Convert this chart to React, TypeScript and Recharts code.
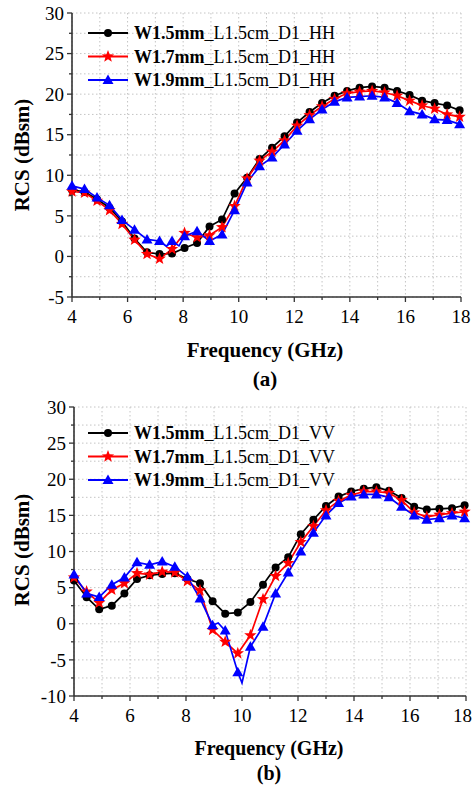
import React from 'react';
import { LineChart, Line, XAxis, YAxis, CartesianGrid } from 'recharts';

// frequencies (GHz) where the symbols sit
const FREQ = [4.0, 4.45, 4.9, 5.35, 5.8, 6.25, 6.7, 7.15, 7.6, 8.05, 8.5, 8.95, 9.4, 9.85, 10.3, 10.75,
  11.2, 11.65, 12.1, 12.55, 13.0, 13.45, 13.9, 14.35, 14.8, 15.25, 15.7, 16.15, 16.6, 17.05, 17.5, 17.95];

// (a) HH polarisation, RCS in dBsm
const HH_W15 = [8.2, 7.95, 7.05, 6.0, 4.3, 2.2, 0.5, 0.3, 0.35, 1.05, 1.65, 3.7, 4.55, 7.75, 9.7, 12.0,
  13.4, 14.8, 16.5, 17.8, 18.9, 19.8, 20.4, 20.8, 20.95, 20.8, 20.4, 19.9, 19.2, 18.9, 18.6, 18.0];
const HH_W17 = [8.0, 7.85, 6.85, 5.7, 4.0, 2.05, 0.3, -0.3, 0.9, 2.9, 2.35, 2.6, 3.6, 6.2, 9.6, 11.8,
  12.9, 14.3, 16.1, 17.4, 18.5, 19.4, 20.1, 20.3, 20.4, 20.2, 19.8, 19.2, 18.6, 18.2, 17.5, 17.2];
const HH_W19 = [8.7, 8.3, 7.25, 6.3, 4.5, 3.3, 2.1, 1.9, 1.9, 2.5, 3.1, 1.9, 2.7, 5.7, 9.1, 11.1,
  12.2, 13.8, 15.5, 16.9, 18.1, 19.05, 19.6, 19.7, 19.8, 19.6, 18.9, 17.9, 17.5, 16.9, 16.8, 16.3];
// points of the W1.9 curve between symbols
const HH_W19_EXTRA_F = [7.4, 7.85];
const HH_W19_EXTRA_V = [1.25, 1.3];

// (b) VV polarisation
const VV_W15 = [6.0, 3.67, 2.0, 2.5, 4.2, 6.2, 6.7, 6.9, 7.0, 6.2, 5.6, 3.1, 1.4, 1.55, 3.0, 5.4,
  7.8, 9.2, 12.4, 14.4, 16.3, 17.6, 18.3, 18.7, 18.9, 18.4, 17.4, 16.2, 15.8, 15.9, 16.0, 16.4];
const VV_W17 = [6.4, 4.45, 2.9, 4.7, 5.6, 7.0, 6.8, 7.2, 7.1, 5.9, 4.6, -0.85, -2.5, -4.1, -1.6, 3.4,
  6.6, 8.4, 11.3, 13.5, 15.7, 17.0, 17.8, 18.3, 18.3, 18.1, 17.1, 15.4, 14.8, 15.1, 15.3, 15.5];
const VV_W19 = [6.8, 4.2, 3.7, 5.4, 6.4, 8.5, 8.15, 8.6, 7.9, 6.5, 3.5, -0.2, -0.95, -6.7, -3.2, -0.4,
  4.2, 7.1, 10.0, 12.6, 15.0, 16.7, 17.6, 17.9, 17.9, 17.5, 16.2, 15.0, 14.4, 14.6, 15.0, 14.6];
const VV_W19_EXTRA_F = [9.15, 10.0];
const VV_W19_EXTRA_V = [0.1, -8.2];

const X_TICKS = [4, 5, 6, 7, 8, 9, 10, 11, 12, 13, 14, 15, 16, 17, 18];
const Y_TICKS_A = [-5, -2.5, 0, 2.5, 5, 7.5, 10, 12.5, 15, 17.5, 20, 22.5, 25, 27.5, 30];
const Y_TICKS_B = [-10, -7.5, -5, -2.5, 0, 2.5, 5, 7.5, 10, 12.5, 15, 17.5, 20, 22.5, 25, 27.5, 30];
const WIDTHS = ['W1.5mm', 'W1.7mm', 'W1.9mm'];

const FONT = "'Liberation Serif', 'Times New Roman', Times, serif";
const AX = '#333';
const COLORS = ['#000000', '#ff0000', '#0000ff'];
const PAGE_W = 473;

function buildRows(s: number[][], exF: number[], exV: number[]) {
  const rows: any[] = FREQ.map((f, i) => ({ f, m: true, s0: s[0][i], s1: s[1][i], s2: s[2][i] }));
  exF.forEach((f, i) => rows.push({ f, m: false, s0: null, s1: null, s2: exV[i] }));
  return rows.sort((a, b) => a.f - b.f);
}

const rowsA = buildRows([HH_W15, HH_W17, HH_W19], HH_W19_EXTRA_F, HH_W19_EXTRA_V);
const rowsB = buildRows([VV_W15, VV_W17, VV_W19], VV_W19_EXTRA_F, VV_W19_EXTRA_V);

function starPath(cx: number, cy: number, R: number, r: number) {
  let d = '';
  for (let i = 0; i < 10; i++) {
    const a = -Math.PI / 2 + (i * Math.PI) / 5;
    const rad = i % 2 === 0 ? R : r;
    d += (i === 0 ? 'M' : 'L') + (cx + rad * Math.cos(a)).toFixed(2) + ',' + (cy + rad * Math.sin(a)).toFixed(2);
  }
  return d + 'Z';
}

function Marker({ kind, cx, cy }: { kind: number; cx: number; cy: number }) {
  if (kind === 0) return <circle cx={cx} cy={cy} r={4} fill={COLORS[0]} />;
  if (kind === 1) return <path d={starPath(cx, cy, 6.5, 2.7)} fill={COLORS[1]} />;
  return <path d={`M${cx},${cy - 5.5}L${cx + 5.5},${cy + 4}L${cx - 5.5},${cy + 4}Z`} fill={COLORS[2]} />;
}

const makeDot = (kind: number) => (p: any) => {
  const { cx, cy, payload, index, value } = p;
  if (!payload || !payload.m || value == null || !Number.isFinite(cx) || !Number.isFinite(cy)) return <g key={`d${kind}-${index}`} />;
  return <g key={`d${kind}-${index}`}><Marker kind={kind} cx={cx} cy={cy} /></g>;
};

const txt = { fontFamily: FONT };

const XTick = (p: any) => {
  const { x, y, payload } = p;
  const v = payload.value;
  const major = v % 2 === 0;
  // keep the last label inside the page
  const tooRight = x + 10 > PAGE_W - 1;
  return (
    <g>
      <line x1={x} x2={x} y1={y} y2={y + (major ? 5 : 3)} stroke={AX} strokeWidth={1.3} />
      {major && (
        <text x={tooRight ? PAGE_W - 1 : x} y={y + 26} textAnchor={tooRight ? 'end' : 'middle'} fontSize={19} style={txt} fill="#000">{v}</text>
      )}
    </g>
  );
};
const XTopTick = (p: any) => {
  const { x, y } = p;
  return <line x1={x} x2={x} y1={y} y2={y + 3} stroke={AX} strokeWidth={1.2} />;
};
const YTick = (p: any) => {
  const { x, y, payload } = p;
  const v = payload.value;
  const major = v % 5 === 0;
  return (
    <g>
      <line x1={x} x2={x - (major ? 5 : 3)} y1={y} y2={y} stroke={AX} strokeWidth={1.3} />
      {major && <text x={x - 8} y={y} dy="0.35em" textAnchor="end" fontSize={19} style={txt} fill="#000">{v}</text>}
    </g>
  );
};
const YRightTick = (p: any) => {
  const { x, y } = p;
  return <line x1={x} x2={x - 3} y1={y} y2={y} stroke={AX} strokeWidth={1.2} />;
};

function Panel({ rows, yTicks, top, height, yw, mr }: any) {
  const dom = [yTicks[0], yTicks[yTicks.length - 1]];
  return (
    <div style={{ position: 'absolute', left: 0, top }}>
      <LineChart width={PAGE_W} height={height} data={rows} margin={{ top: 13, right: mr, bottom: 13, left: 0 }}>
        <CartesianGrid stroke="#c4c4c4" strokeDasharray="1.5 2.5" strokeWidth={1} />
        <XAxis dataKey="f" type="number" domain={[4, 18]} ticks={X_TICKS} interval={0} height={30}
          tickSize={0} tickMargin={0} tickLine={false} tick={<XTick />} axisLine={{ stroke: AX, strokeWidth: 1.6 }} />
        <XAxis xAxisId="top" orientation="top" dataKey="f" type="number" domain={[4, 18]} ticks={X_TICKS} interval={0}
          height={0} tickSize={0} tickMargin={0} tickLine={false} tick={<XTopTick />} axisLine={{ stroke: AX, strokeWidth: 1.6 }} />
        <YAxis type="number" domain={dom} ticks={yTicks} interval={0} width={yw}
          tickSize={0} tickMargin={0} tickLine={false} tick={<YTick />} axisLine={{ stroke: AX, strokeWidth: 1.6 }} />
        <YAxis yAxisId="r" orientation="right" type="number" domain={dom} ticks={yTicks} interval={0} width={0}
          tickSize={0} tickMargin={0} tickLine={false} tick={<YRightTick />} axisLine={{ stroke: AX, strokeWidth: 1.6 }} />
        {[0, 1, 2].map((k) => (
          <Line key={k} type="linear" dataKey={`s${k}`} stroke={COLORS[k]} strokeWidth={1.7} connectNulls
            dot={makeDot(k)} activeDot={false} isAnimationActive={false} />
        ))}
      </LineChart>
    </div>
  );
}

function Legend({ y0, pol }: { y0: number; pol: string }) {
  return (
    <g>
      {WIDTHS.map((w, k) => {
        const y = y0 + k * 23.5;
        return (
          <g key={w}>
            <line x1={88} x2={128} y1={y} y2={y} stroke={COLORS[k]} strokeWidth={1.8} />
            <Marker kind={k} cx={108} cy={y} />
            <text x={134} y={y + 6} fontSize={18} style={txt} fill="#000">
              <tspan fontWeight="bold">{w}</tspan>
              <tspan>{`_L1.5cm_D1_${pol}`}</tspan>
            </text>
          </g>
        );
      })}
    </g>
  );
}

export default function App() {
  const title = { fontSize: 21, style: txt, fontWeight: 'bold' as const, fill: '#000' };
  return (
    <div style={{ position: 'absolute', left: 0, top: 0, width: PAGE_W, height: 792, background: '#fff', overflow: 'hidden', fontFamily: FONT }}>
      <Panel rows={rowsA} yTicks={Y_TICKS_A} top={0} height={340} yw={72} mr={12} />
      <Panel rows={rowsB} yTicks={Y_TICKS_B} top={394} height={345} yw={74} mr={7} />
      <svg width={PAGE_W} height={792} style={{ position: 'absolute', left: 0, top: 0, pointerEvents: 'none' }}>
        <Legend y0={33} pol="HH" />
        <Legend y0={433} pol="VV" />
        <text transform="translate(22,155) rotate(-90)" textAnchor="middle" dy="0.35em" {...title}>RCS (dBsm)</text>
        <text transform="translate(22,550) rotate(-90)" textAnchor="middle" dy="0.35em" {...title}>RCS (dBsm)</text>
        <text x={265} y={350} dy="0.35em" textAnchor="middle" {...title}>Frequency (GHz)</text>
        <text x={265} y={379} dy="0.35em" textAnchor="middle" {...title}>(a)</text>
        <text x={269} y={748} dy="0.35em" textAnchor="middle" {...title} fontSize={20}>Frequency (GHz)</text>
        <text x={269} y={773} dy="0.35em" textAnchor="middle" {...title} fontSize={20}>(b)</text>
      </svg>
    </div>
  );
}
